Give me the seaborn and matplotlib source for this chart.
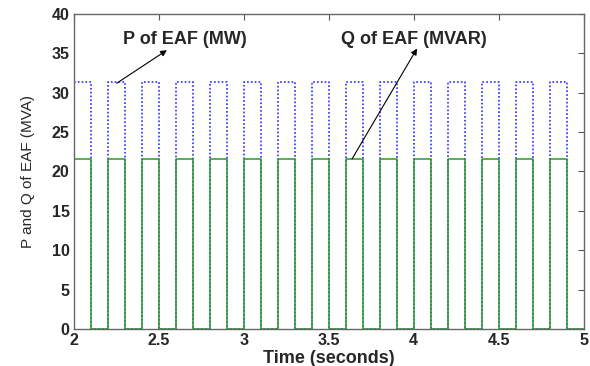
import matplotlib
matplotlib.use("Agg")
import matplotlib.pyplot as plt
import seaborn as sns
import pandas as pd

# Step breakpoints (seconds) and levels held until the next breakpoint
time_s = [2.0, 2.1, 2.2, 2.3, 2.4, 2.5, 2.6, 2.7, 2.8, 2.9,
          3.0, 3.1, 3.2, 3.3, 3.4, 3.5, 3.6, 3.7, 3.8, 3.9,
          4.0, 4.1, 4.2, 4.3, 4.4, 4.5, 4.6, 4.7, 4.8, 4.9, 5.0]
p_mw = [31.3, 0, 31.3, 0, 31.3, 0, 31.3, 0, 31.3, 0,
        31.3, 0, 31.3, 0, 31.3, 0, 31.3, 0, 31.3, 0,
        31.3, 0, 31.4, 0, 31.3, 0, 31.3, 0, 31.3, 0, 0]
q_mvar = [21.6, 0, 21.6, 0, 21.6, 0, 21.6, 0, 21.6, 0,
          21.6, 0, 21.6, 0, 21.6, 0, 21.6, 0, 21.6, 0,
          21.6, 0, 21.6, 0, 21.6, 0, 21.6, 0, 21.6, 0, 0]

x_ticks = [2, 2.5, 3, 3.5, 4, 4.5, 5]
x_tick_labels = ["2", "2.5", "3", "3.5", "4", "4.5", "5"]
y_ticks = [0, 5, 10, 15, 20, 25, 30, 35, 40]

df = pd.DataFrame({"t": time_s, "P": p_mw, "Q": q_mvar})

sns.set_style("white")
plt.rcParams["font.family"] = ["Liberation Sans", "DejaVu Sans"]

fig = plt.figure(figsize=(5.9, 3.66), dpi=100)
ax = fig.add_axes([0.125, 0.101, 0.864, 0.861])

sns.lineplot(data=df, x="t", y="P", ax=ax, estimator=None, sort=False,
             drawstyle="steps-post", color="#1a1aff", linewidth=1.1,
             linestyle=(0, (1.1, 1.4)))
sns.lineplot(data=df, x="t", y="Q", ax=ax, estimator=None, sort=False,
             drawstyle="steps-post", color="#2a9a2a", linewidth=1.1)

ax.set_xlim(2, 5)
ax.set_ylim(0, 40)
ax.set_xticks(x_ticks)
ax.set_xticklabels(x_tick_labels)
ax.set_yticks(y_ticks)
for lab in ax.get_xticklabels() + ax.get_yticklabels():
    lab.set_fontweight("bold")
    lab.set_fontsize(11.5)
ax.tick_params(direction="in", length=4, top=True, right=True,
               color="#555555", pad=3)
for s in ax.spines.values():
    s.set_color("#666666")
    s.set_linewidth(1.0)

ax.set_xlabel("Time (seconds)", fontsize=13, fontweight="bold", labelpad=1)
ax.set_ylabel("P and Q of EAF (MVA)", fontsize=11, labelpad=12)

ax.text(2.654, 36.7, "P of EAF (MW)", ha="center", va="center",
        fontsize=13, fontweight="bold")
ax.text(4.0, 36.7, "Q of EAF (MVAR)", ha="center", va="center",
        fontsize=13, fontweight="bold")
arrow_kw = dict(arrowstyle="-|>", color="black", lw=0.8,
                shrinkA=0, shrinkB=0, mutation_scale=9)
ax.annotate("", xy=(2.548, 35.4), xytext=(2.253, 31.2), arrowprops=arrow_kw)
ax.annotate("", xy=(4.02, 35.6), xytext=(3.638, 21.6), arrowprops=arrow_kw)

fig.savefig("out.png", dpi=100)
